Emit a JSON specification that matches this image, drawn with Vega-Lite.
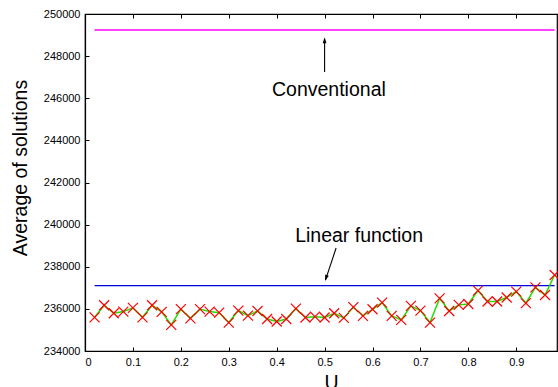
{
  "$schema": "https://vega.github.io/schema/vega-lite/v6.json",
  "width": 472,
  "height": 337,
  "autosize": {"type": "none"},
  "padding": {"left": 85, "top": 14, "right": 1, "bottom": 36},
  "config": {
    "font": "Liberation Sans",
    "view": {"stroke": "#000", "strokeWidth": 1.2},
    "axis": {
      "grid": false,
      "domainColor": "#000",
      "domainWidth": 1.2,
      "tickColor": "#000",
      "tickWidth": 1,
      "labelColor": "#000",
      "titleColor": "#000",
      "labelFont": "Liberation Sans",
      "titleFont": "Liberation Sans",
      "labelFontSize": 11,
      "titleFontSize": 19.5,
      "titleFontWeight": "normal",
      "tickSize": -4
    }
  },
  "datasets": {
    "series": [
      {"u": 0.02, "avg": 235600}, {"u": 0.04, "avg": 236170}, {"u": 0.06, "avg": 235790},
      {"u": 0.08, "avg": 235870}, {"u": 0.10, "avg": 236050}, {"u": 0.12, "avg": 235600},
      {"u": 0.14, "avg": 236170}, {"u": 0.16, "avg": 235860}, {"u": 0.18, "avg": 235240},
      {"u": 0.20, "avg": 235990}, {"u": 0.22, "avg": 235550}, {"u": 0.24, "avg": 235990},
      {"u": 0.26, "avg": 235870}, {"u": 0.28, "avg": 235820}, {"u": 0.30, "avg": 235350},
      {"u": 0.32, "avg": 235920}, {"u": 0.34, "avg": 235680}, {"u": 0.36, "avg": 235900},
      {"u": 0.38, "avg": 235520}, {"u": 0.40, "avg": 235400}, {"u": 0.42, "avg": 235520},
      {"u": 0.44, "avg": 236010}, {"u": 0.46, "avg": 235590}, {"u": 0.48, "avg": 235630},
      {"u": 0.50, "avg": 235590}, {"u": 0.52, "avg": 235790}, {"u": 0.54, "avg": 235570},
      {"u": 0.56, "avg": 236080}, {"u": 0.58, "avg": 235670}, {"u": 0.60, "avg": 235980},
      {"u": 0.62, "avg": 236300}, {"u": 0.64, "avg": 235670}, {"u": 0.66, "avg": 235480},
      {"u": 0.68, "avg": 236140}, {"u": 0.70, "avg": 235920}, {"u": 0.72, "avg": 235350},
      {"u": 0.74, "avg": 236500}, {"u": 0.76, "avg": 235900}, {"u": 0.78, "avg": 236190},
      {"u": 0.80, "avg": 236230}, {"u": 0.82, "avg": 236870}, {"u": 0.84, "avg": 236350},
      {"u": 0.86, "avg": 236350}, {"u": 0.88, "avg": 236540}, {"u": 0.90, "avg": 236820},
      {"u": 0.92, "avg": 236270}, {"u": 0.94, "avg": 237020}, {"u": 0.96, "avg": 236660},
      {"u": 0.98, "avg": 237610}
    ],
    "hlines": [
      {"name": "Conventional", "u": 0.02, "u2": 0.98, "avg": 249240},
      {"name": "Linear function", "u": 0.02, "u2": 0.98, "avg": 237100}
    ],
    "labels": [
      {"name": "Conventional", "u": 0.509, "avg": 246120},
      {"name": "Linear function", "u": 0.572, "avg": 239190}
    ],
    "arrows": [
      {"name": "Conventional", "u": 0.5, "avg": 247250, "u2": 0.5, "avg2": 248800},
      {"name": "Linear function", "u": 0.524, "avg": 238890, "u2": 0.502, "avg2": 237380}
    ],
    "tips": [
      {"name": "Conventional", "u": 0.5, "avg": 248900},
      {"name": "Linear function", "u": 0.501, "avg": 237320}
    ]
  },
  "layer": [
    {
      "data": {"name": "hlines"},
      "mark": {"type": "rule", "strokeWidth": 1.3},
      "encoding": {
        "x": {"field": "u", "type": "quantitative", "scale": {"domain": [0, 0.985], "nice": false, "zero": false},
          "axis": {"orient": "bottom", "values": [0, 0.1, 0.2, 0.3, 0.4, 0.5, 0.6, 0.7, 0.8, 0.9], "format": "~g", "labelPadding": 9, "title": "U", "titleX": 246, "titleY": 37, "titleBaseline": "alphabetic", "titleAlign": "center"}},
        "x2": {"field": "u2"},
        "y": {"field": "avg", "type": "quantitative", "scale": {"domain": [234000, 250000], "nice": false, "zero": false},
          "axis": {"values": [234000, 236000, 238000, 240000, 242000, 244000, 246000, 248000, 250000], "format": "d", "labelPadding": 9, "title": "Average of solutions", "titleAngle": -90, "titleX": -65, "titleY": 153.5, "titleBaseline": "middle", "titleAlign": "center"}},
        "color": {"field": "name", "type": "nominal", "scale": {"domain": ["Conventional", "Linear function"], "range": ["#ff00ff", "#0000e0"]}, "legend": null}
      }
    },
    {
      "data": {"name": "series"},
      "mark": {"type": "line", "color": "#22dd00", "strokeWidth": 1.5},
      "encoding": {
        "x": {"field": "u", "type": "quantitative", "scale": {"domain": [0, 0.985], "nice": false, "zero": false},
          "axis": {"orient": "top", "values": [0, 0.1, 0.2, 0.3, 0.4, 0.5, 0.6, 0.7, 0.8, 0.9], "labels": false, "title": null}},
        "y": {"field": "avg", "type": "quantitative"}
      }
    },
    {
      "data": {"name": "series"},
      "mark": {"type": "point", "shape": "M-1,-1L1,1M-1,1L1,-1", "filled": false, "stroke": "#ff0000", "strokeWidth": 1.2, "size": 100, "opacity": 1},
      "encoding": {
        "x": {"field": "u", "type": "quantitative", "axis": null},
        "y": {"field": "avg", "type": "quantitative"}
      }
    },
    {
      "data": {"name": "arrows"},
      "mark": {"type": "rule", "color": "#000", "strokeWidth": 1.1},
      "encoding": {
        "x": {"field": "u", "type": "quantitative", "axis": null},
        "x2": {"field": "u2"},
        "y": {"field": "avg", "type": "quantitative"},
        "y2": {"field": "avg2"}
      }
    },
    {
      "data": {"name": "tips"},
      "transform": [{"filter": "datum.name === 'Conventional'"}],
      "mark": {"type": "point", "shape": "M0,0L-0.4,1.3L0.4,1.3Z", "filled": true, "color": "#000", "size": 90, "opacity": 1},
      "encoding": {
        "x": {"field": "u", "type": "quantitative", "axis": null},
        "y": {"field": "avg", "type": "quantitative"}
      }
    },
    {
      "data": {"name": "tips"},
      "transform": [{"filter": "datum.name === 'Linear function'"}],
      "mark": {"type": "point", "shape": "M0,0L-0.4,-1.3L0.4,-1.3Z", "filled": true, "color": "#000", "size": 90, "angle": 18, "opacity": 1},
      "encoding": {
        "x": {"field": "u", "type": "quantitative", "axis": null},
        "y": {"field": "avg", "type": "quantitative"}
      }
    },
    {
      "data": {"name": "labels"},
      "mark": {"type": "text", "fontSize": 19.5, "font": "Liberation Sans", "align": "center", "baseline": "alphabetic", "color": "#000"},
      "encoding": {
        "x": {"field": "u", "type": "quantitative", "axis": null},
        "y": {"field": "avg", "type": "quantitative"},
        "text": {"field": "name", "type": "nominal"}
      }
    }
  ],
  "resolve": {"axis": {"x": "independent"}}
}
